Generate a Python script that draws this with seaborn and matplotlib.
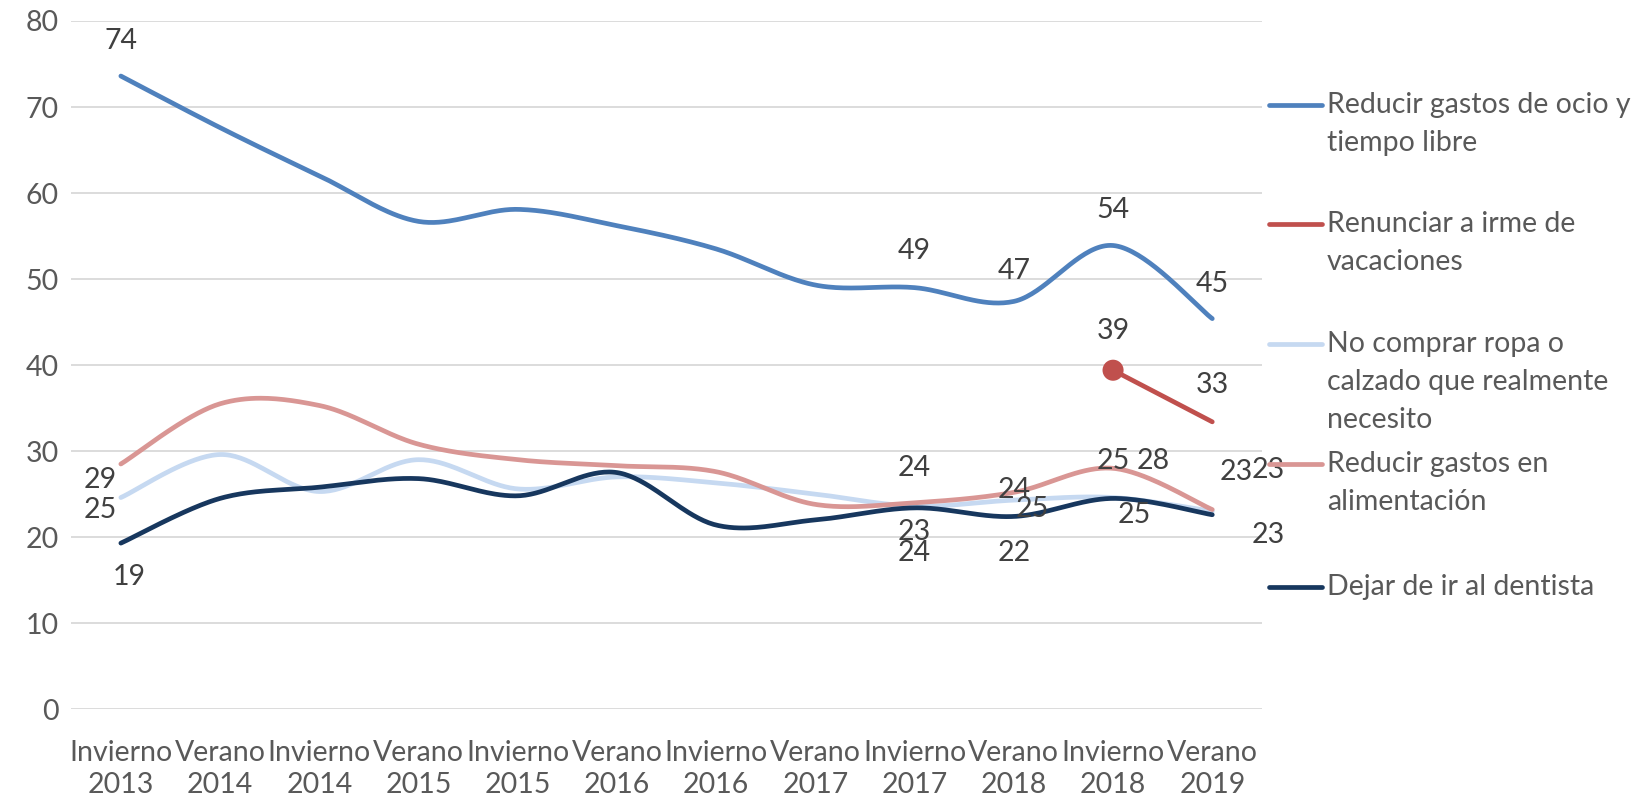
import numpy as np
import pandas as pd
import matplotlib
matplotlib.use("Agg")
import matplotlib.pyplot as plt
import seaborn as sns
from matplotlib.lines import Line2D

# periodos de la encuesta
periodos = ["Invierno\n2013", "Verano\n2014", "Invierno\n2014", "Verano\n2015",
            "Invierno\n2015", "Verano\n2016", "Invierno\n2016", "Verano\n2017",
            "Invierno\n2017", "Verano\n2018", "Invierno\n2018", "Verano\n2019"]

ocio = [73.6, 67.6, 62.0, 56.7, 58.1, 56.2, 53.5, 49.3, 49.0, 47.4, 53.9, 45.4]
vacaciones = [np.nan] * 10 + [39.4, 33.4]
ropa = [24.6, 29.6, 25.3, 29.0, 25.6, 27.0, 26.3, 25.0, 23.6, 24.3, 24.6, 23.0]
alimentacion = [28.5, 35.5, 35.3, 30.8, 29.0, 28.3, 27.6, 23.8, 24.0, 25.2, 28.0, 23.2]
dentista = [19.3, 24.5, 25.8, 26.8, 24.8, 27.5, 21.4, 22.0, 23.4, 22.4, 24.5, 22.6]

series = ["Reducir gastos de ocio y tiempo libre",
          "Renunciar a irme de vacaciones",
          "No comprar ropa o calzado que realmente necesito",
          "Reducir gastos en alimentación",
          "Dejar de ir al dentista"]
valores = [ocio, vacaciones, ropa, alimentacion, dentista]
colores = ["#4f81bd", "#c0504d", "#c6d9f1", "#d99694", "#17375e"]
leyenda = [["Reducir gastos de ocio y", "tiempo libre"],
           ["Renunciar a irme de", "vacaciones"],
           ["No comprar ropa o", "calzado que realmente", "necesito"],
           ["Reducir gastos en", "alimentación"],
           ["Dejar de ir al dentista"]]

# etiquetas: (serie, punto) -> desplazamiento en px
etiquetas = {
    (0, 0): (0, 33), (0, 8): (0, 35), (0, 9): (0, 29), (0, 10): (0, 34), (0, 11): (0, 33),
    (1, 10): (0, 37), (1, 11): (0, 35),
    (2, 0): (-20, -12), (2, 8): (0, 36), (2, 9): (0, 10), (2, 10): (0, 35), (2, 11): (23, 38),
    (3, 0): (-20, -15), (3, 8): (0, -48), (3, 9): (18, -16), (3, 10): (38, 7), (3, 11): (53, 38),
    (4, 0): (8, -32), (4, 8): (0, -23), (4, 9): (0, -35), (4, 10): (20, -16), (4, 11): (53, -19),
}


def suavizar(x, y, n=40):
    # curva suavizada tipo excel (bezier entre puntos)
    pts = np.column_stack([x, y])
    out = []
    for i in range(len(pts) - 1):
        p0 = pts[max(i - 1, 0)]
        p1 = pts[i]
        p2 = pts[i + 1]
        p3 = pts[min(i + 2, len(pts) - 1)]
        c1 = p1 + (p2 - p0) / 6
        c2 = p2 - (p3 - p1) / 6
        t = np.linspace(0, 1, n)[:, None]
        seg = (1 - t) ** 3 * p1 + 3 * (1 - t) ** 2 * t * c1 + 3 * (1 - t) * t ** 2 * c2 + t ** 3 * p2
        out.append(seg if i == 0 else seg[1:])
    return np.vstack(out)


sns.set_style("white")
plt.rcParams['font.family'] = ['Lato', 'DejaVu Sans']

fig = plt.figure(figsize=(16.42, 7.95), dpi=100)
ax = fig.add_axes([0.0434, 0.108, 0.7685 - 0.0434, 0.9736 - 0.108])

frames = []
for nombre, vals in zip(series, valores):
    v = np.array(vals, dtype=float)
    idx = np.where(~np.isnan(v))[0]
    curva = suavizar(idx.astype(float), v[idx])
    frames.append(pd.DataFrame({"x": curva[:, 0], "y": curva[:, 1], "serie": nombre}))
df = pd.concat(frames, ignore_index=True)

sns.lineplot(data=df, x="x", y="y", hue="serie", hue_order=series, palette=colores,
             sort=False, estimator=None, linewidth=3.4, legend=False, ax=ax,
             solid_capstyle="round")

# marcador en el primer punto de vacaciones
v = np.array(vacaciones, dtype=float)
i0 = int(np.where(~np.isnan(v))[0][0])
sns.scatterplot(x=[i0], y=[v[i0]], color=colores[1], s=230, edgecolor="none", ax=ax, zorder=5)

for (s, p), (dx, dy) in etiquetas.items():
    val = valores[s][p]
    ax.annotate(f"{int(np.floor(val + 0.5))}", (p, val), xytext=(dx * 1.047, dy * 1.047),
                textcoords="offset pixels", ha="center", va="center",
                fontsize=20.5, color="#404040")

ax.set_xlim(-0.5, 11.5)
ax.set_ylim(0, 80)
ax.set_yticks(range(0, 81, 10))
ax.set_xticks(range(len(periodos)))
ax.set_xticklabels(periodos, linespacing=1.3)
ax.set_xlabel("")
ax.set_ylabel("")
ax.yaxis.grid(True, color="#d9d9d9", linewidth=1.3)
ax.xaxis.grid(False)
ax.set_axisbelow(True)
sns.despine(ax=ax, left=True, bottom=True)
ax.tick_params(axis="both", length=0, labelsize=20.5, colors="#595959")
ax.tick_params(axis="y", pad=9)
ax.tick_params(axis="x", pad=22)

# leyenda a la derecha
ytop = [100, 214, 328, 443, 560]
for k, lineas in enumerate(leyenda):
    yf = 1 - ytop[k] / 759
    fig.add_artist(Line2D([1212 / 1568, 1262 / 1568], [yf, yf], color=colores[k],
                          linewidth=3.4, solid_capstyle="round"))
    for j, txt in enumerate(lineas):
        fig.text(1267 / 1568, yf - j * 36.5 / 759, txt, ha="left", va="center",
                 fontsize=20.5, color="#595959")

fig.savefig("out.png", dpi=100)
